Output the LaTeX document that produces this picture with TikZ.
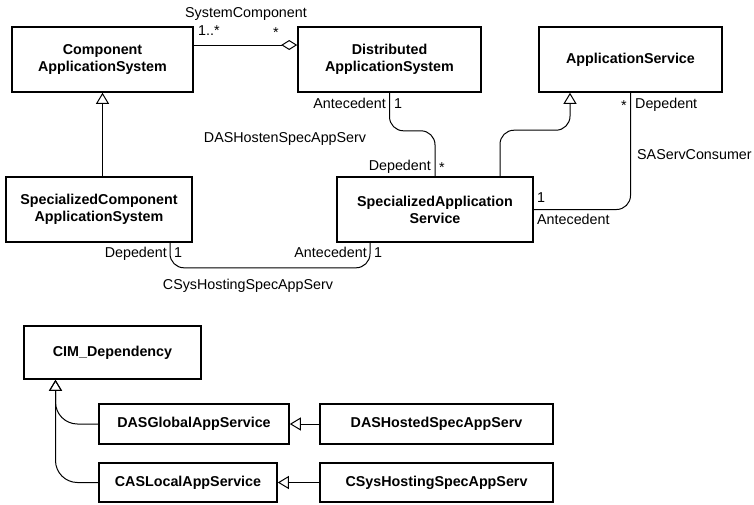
\documentclass[tikz,border=0pt]{standalone}
\usepackage{fontspec}
\setmainfont{Liberation Sans}
\usetikzlibrary{arrows.meta}
\newcommand\dgfont{\fontsize{14.3pt}{17pt}\selectfont}
\begin{document}
\begin{tikzpicture}[x=1pt,y=-1pt,
  cls/.style={draw,line width=1.6pt,align=center,font=\dgfont\bfseries,inner sep=0pt},
  conn/.style={line width=1pt,rounded corners=14pt},
  gen/.style={-{Triangle[open,length=11pt,width=13pt,line width=1pt]}},
  agg/.style={{Diamond[open,length=16pt,width=10pt,line width=1pt]}-},
  lbl/.style={inner sep=0pt,font=\dgfont}]
\useasboundingbox (0,0) rectangle (754,504);

% classes of the association diagram
\node[cls,minimum width=181pt,minimum height=65pt] (cas)  at (102.5,59.5) {Component\\ApplicationSystem};
\node[cls,minimum width=183pt,minimum height=65pt] (das)  at (389.5,59.5) {Distributed\\ApplicationSystem};
\node[cls,minimum width=183pt,minimum height=65pt] (as)   at (630.5,59.5) {ApplicationService};
\node[cls,minimum width=186pt,minimum height=65pt] (scas) at (99,209.5)   {SpecializedComponent\\ApplicationSystem};
\node[cls,minimum width=196pt,minimum height=65pt] (sas)  at (435,209.5)  {SpecializedApplication\\Service};

% classes of the inheritance tree
\node[cls,minimum width=177pt,minimum height=53pt] (cim)  at (112.5,352.5) {CIM\_Dependency};
\node[cls,minimum width=190pt,minimum height=40pt] (dasg) at (194,424)     {DASGlobalAppService};
\node[cls,minimum width=233pt,minimum height=40pt] (dash) at (436.5,424)   {DASHostedSpecAppServ};
\node[cls,minimum width=178pt,minimum height=39pt] (casl) at (188,482.5)   {CASLocalAppService};
\node[cls,minimum width=233pt,minimum height=39pt] (csys) at (436.5,482.5) {CSysHostingSpecAppServ};

% aggregation SystemComponent
\draw[conn,agg] ([yshift=14.5pt]das.west) -- ([yshift=14.5pt]cas.east);
% generalizations
\draw[conn,gen] (cas.south |- scas.north) -- (cas.south);
\draw[conn,gen] ([xshift=65pt]sas.north) -- ++(0,-46) -| ([xshift=-60.5pt]as.south);
% associations
\draw[conn] (das.south) -- ++(0,38) -| (sas.north);
\draw[conn] (as.south) |- (sas.east);
\draw[conn] ([xshift=71pt]scas.south) -- ++(0,25) -| ([xshift=-65pt]sas.south);

% inheritance tree connectors
\draw[conn,gen,rounded corners=22pt] (casl.west) -| ([xshift=-57pt]cim.south);
\draw[conn,gen,rounded corners=22pt] (dasg.west) -| ([xshift=-57pt]cim.south);
\draw[conn,gen] (dash.west) -- (dasg.east);
\draw[conn,gen] (csys.west) -- (casl.east);

% association names and role labels
\node[lbl,anchor=mid]      (tSC)  at (246,15)  {SystemComponent};
\node[lbl,anchor=mid west] (tSC1) at (198,33)  {1..*};
\node[lbl,anchor=mid west] (tSC2) at (273,35)  {*};
\node[lbl,anchor=mid east] (tDA1) at (386,106) {Antecedent};
\node[lbl,anchor=mid west] (tDA2) at (394,106) {1};
\node[lbl,anchor=mid]      (tDA)  at (285,140) {DASHostenSpecAppServ};
\node[lbl,anchor=mid east] (tDA3) at (431,168) {Depedent};
\node[lbl,anchor=mid west] (tDA4) at (439,170) {*};
\node[lbl,anchor=mid east] (tSA1) at (627,108) {*};
\node[lbl,anchor=mid west] (tSA2) at (635,106) {Depedent};
\node[lbl,anchor=mid west] (tSA)  at (637,157) {SAServConsumer};
\node[lbl,anchor=mid west] (tSA3) at (537,200) {1};
\node[lbl,anchor=mid west] (tSA4) at (537,222) {Antecedent};
\node[lbl,anchor=mid east] (tCS1) at (167,255) {Depedent};
\node[lbl,anchor=mid west] (tCS2) at (174,255) {1};
\node[lbl,anchor=mid east] (tCS3) at (367,255) {Antecedent};
\node[lbl,anchor=mid west] (tCS4) at (374,255) {1};
\node[lbl,anchor=mid]      (tCS)  at (248,287) {CSysHostingSpecAppServ};
\end{tikzpicture}
\end{document}
